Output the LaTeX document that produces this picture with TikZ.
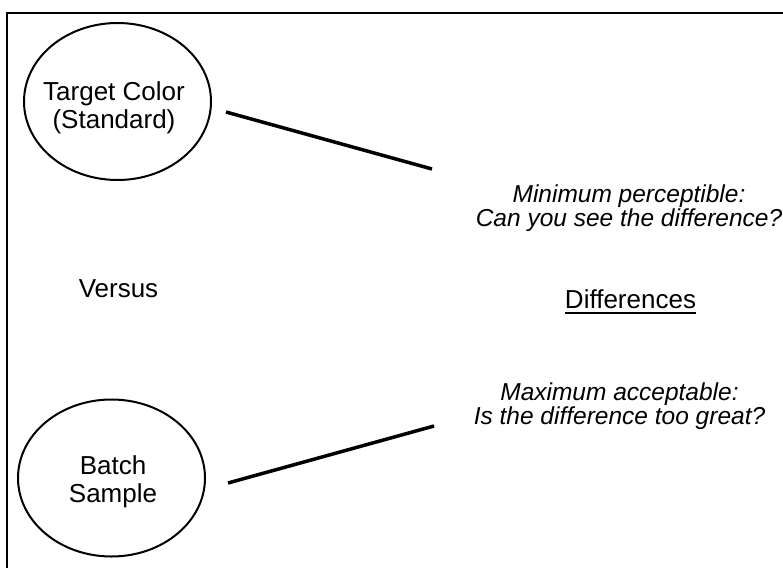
\documentclass[tikz,border=0pt]{standalone}
\usepackage{fontspec}
\setmainfont{Liberation Sans}
\usetikzlibrary{shapes.geometric}
\begin{document}
\begin{tikzpicture}[x=1pt,y=-1pt,
  frame/.style={line width=2pt},
  circ/.style={draw, ellipse, line width=2pt, inner sep=0pt, minimum width=187pt, minimum height=157pt},
  lbl/.style={align=center, font=\fontsize{26}{28}\selectfont, inner sep=0pt},
  note/.style={align=center, font=\fontsize{24.5}{22}\selectfont\itshape, inner sep=0pt},
  conn/.style={line width=3.5pt},
  uline/.style={line width=1.5pt}]
\useasboundingbox (0,0) rectangle (783,567);
% frame
\coordinate (fTL) at (7,13);
\coordinate (fTR) at (785,13);
\coordinate (fBL) at (7,569);
\draw[frame] (fTR) -- (fTL) -- (fBL);
% ellipses
\node[circ] (target) at (117.5,101.5) {};
\node[lbl] (targettext) at (114,108) {Target Color\\(Standard)};
\node[circ] (batch) at (111.5,478) {};
\node[lbl] (batchtext) at (113,481.5) {Batch\\Sample};
% middle text
\node[lbl, anchor=base] (versus) at (118.5,297) {Versus};
% right texts
\node[note] (mintext) at (629,208) {Minimum perceptible:\\Can you see the difference?};
\node[note] (maxtext) at (619.5,406) {Maximum acceptable:\\Is the difference too great?};
\node[lbl, anchor=base] (diff) at (630.5,308) {Differences};
\draw[uline] ([yshift=-5pt]diff.base west) -- ([yshift=-5pt]diff.base east);
% connectors
\coordinate (tEnd) at (432,169);
\coordinate (bEnd) at (434,426);
\draw[conn] ([shift={(14pt,-10.5pt)}]target.east) -- (tEnd);
\draw[conn] ([shift={(22pt,-5pt)}]batch.east) -- (bEnd);
\end{tikzpicture}
\end{document}
